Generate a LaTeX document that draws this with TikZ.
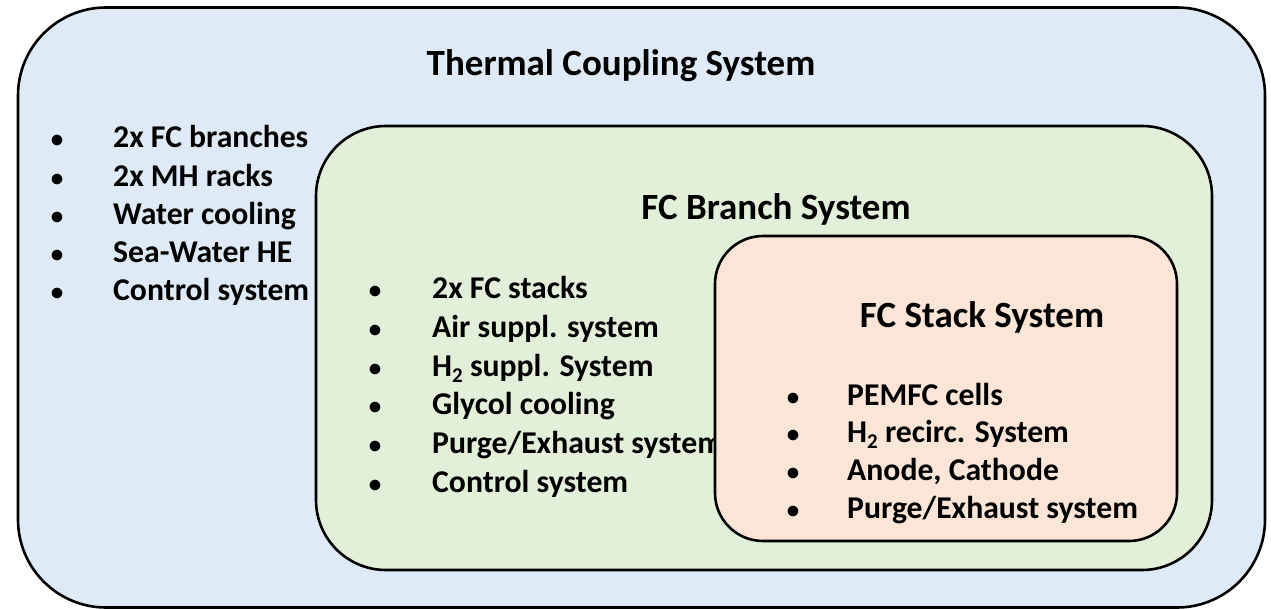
\documentclass[tikz,border=0pt]{standalone}
\usepackage{fontspec}
\setmainfont{Carlito}
\usepackage{tikz}
\usetikzlibrary{positioning}
\definecolor{tcsfill}{RGB}{222,235,247}
\definecolor{branchfill}{RGB}{226,240,217}
\definecolor{stackfill}{RGB}{251,229,214}
\newcommand{\hsub}{H\raisebox{-6pt}{\fontsize{21}{24}\selectfont 2}}
\tikzset{
  sysbox/.style={
    draw=black,
    line width=2.6pt,
    inner sep=0pt
  },
  title/.style={font=\fontsize{37}{44}\selectfont\bfseries, anchor=base, inner sep=0pt},
  item/.style={font=\fontsize{31.7}{38}\selectfont\bfseries, anchor=base west, inner sep=0pt},
  dot/.style={font=\fontsize{25}{28}\selectfont\bfseries, anchor=base, inner sep=0pt}
}

\begin{document}
\begin{tikzpicture}[x=1pt, y=-1pt]
    \useasboundingbox (0,0) rectangle (1271,609);

    % outer and branch boxes
    \node[sysbox, fill=tcsfill, rounded corners=88pt,
      minimum width=1247pt, minimum height=600pt] (tcs) at (641.5,307.5) {};
    \node[sysbox, fill=branchfill, rounded corners=70pt,
      minimum width=896pt, minimum height=444pt] (branch) at (764,348) {};

    % titles
    \node[title] (tcstitle) at (621,76) {Thermal Coupling System};
    \node[title] (branchtitle) at (776,220) {FC Branch System};

    % thermal coupling items
    \foreach \txt [count=\i] in {2x FC branches, 2x MH racks, Water cooling,
        Sea-Water HE, Control system}{
      \node[dot] (tcsdot\i) at (57,{148+38.25*(\i-1)}) {•};
      \node[item] (tcsitem\i) at (113,{148+38.25*(\i-1)}) {\txt};
    }

    % branch items
    \foreach \txt [count=\i] in {2x FC stacks, Air suppl. system,
        \hsub{} suppl. System, Glycol cooling,
        Purge/Exhaust system, Control system}{
      \node[dot] (branchdot\i) at (375,{299+38.6*(\i-1)}) {•};
      \node[item] (branchitem\i) at (432,{299+38.6*(\i-1)}) {\txt};
    }

    % stack box on top, cuts the branch text
    \node[sysbox, fill=stackfill, rounded corners=48pt,
      minimum width=462pt, minimum height=305pt] (stack) at (946,388.5) {};
    \node[title] (stacktitle) at (982,328) {FC Stack System};

    % stack items
    \foreach \txt [count=\i] in {PEMFC cells, \hsub{} recirc. System,
        {Anode, Cathode}, Purge/Exhaust system}{
      \node[dot] (stackdot\i) at (793,{405+37.8*(\i-1)}) {•};
      \node[item] (stackitem\i) at (847,{405+37.8*(\i-1)}) {\txt};
    }
  \end{tikzpicture}
\end{document}
